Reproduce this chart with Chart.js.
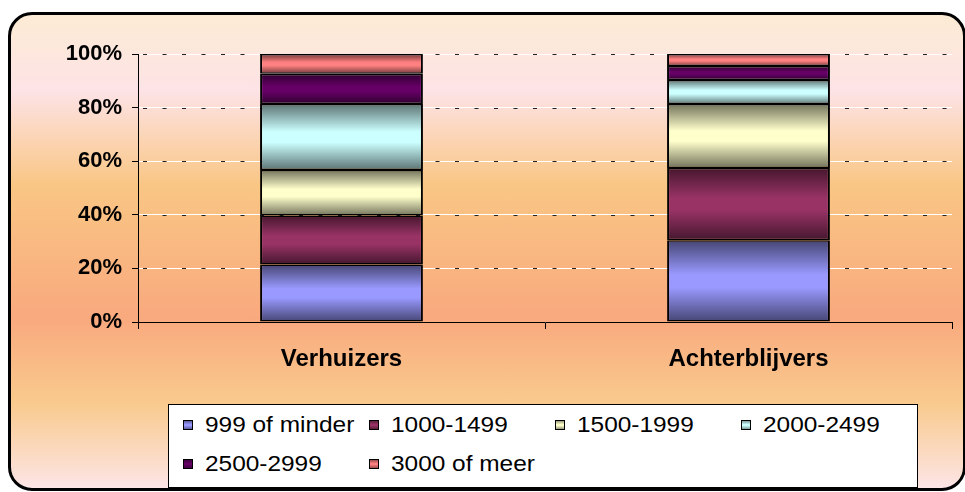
<!DOCTYPE html>
<html>
<head>
<meta charset="utf-8">
<script src="https://cdn.jsdelivr.net/npm/chart.js@4"></script>
<style>
  html, body { margin: 0; padding: 0; background: #fff; }
  #wrap { position: relative; width: 965px; height: 492px; overflow: hidden; }
  #kader {
    position: absolute; left: 8px; top: 12px; width: 952px; height: 473px;
    border: 3px solid #000; border-radius: 24px;
    background: linear-gradient(to bottom, #fcebd4 0%, #fde3e6 16%, #f9c684 36%, #f9a97e 64%, #f9ca8d 82%, #fde5e6 100%);
  }
  #grafiek { position: absolute; left: 0; top: 0; }
  #legenda {
    position: absolute; left: 168px; top: 404px; width: 750px; height: 84px;
    background: #fff; border: 1px solid #000; box-sizing: border-box;
    display: grid; grid-template-columns: repeat(4, 186px); grid-auto-rows: 39px;
    padding-left: 14px;
    font-family: "Liberation Sans", Arial, sans-serif; font-size: 22px; color: #000;
  }
  .item { display: flex; align-items: center; white-space: nowrap; }
  .blokje { width: 8px; height: 8px; border: 1px solid #000; margin-right: 12px; flex: none; }
  .tekst { display: inline-block; transform: scaleX(1.11); transform-origin: 0 50%; }
</style>
</head>
<body>
<div id="wrap">
  <div id="kader"></div>
  <canvas id="grafiek" width="965" height="492"></canvas>
  <div id="legenda"></div>
</div>
<script>
// ================================
// DATA
// ================================

const categorieen = ['Verhuizers', 'Achterblijvers'];

const klassen = ['999 of minder', '1000-1499', '1500-1999', '2000-2499', '2500-2999', '3000 of meer'];
const kleuren = ['#9999ff', '#993366', '#ffffcc', '#ccffff', '#660066', '#ff8080'];

// percentage per klasse: [Verhuizers, Achterblijvers]
const minder999  = [21.5, 30.5];
const van1000    = [18.2, 27.0];
const van1500    = [17.0, 23.8];
const van2000    = [24.6, 9.0];
const van2500    = [11.3, 5.2];
const meer3000   = [7.4, 4.5];

const reeksen = [minder999, van1000, van1500, van2000, van2500, meer3000];

const yTicks = [0, 20, 40, 60, 80, 100];

// ================================
// HULPFUNCTIES
// ================================

function donker(hex, f) {
  const n = parseInt(hex.slice(1), 16);
  const r = Math.round(((n >> 16) & 255) * f);
  const g = Math.round(((n >> 8) & 255) * f);
  const b = Math.round((n & 255) * f);
  return `rgb(${r},${g},${b})`;
}

// verticale "buis"-gradient per segment, donker aan de randen
function segmentKleur(ctx) {
  const chart = ctx.chart;
  const basis = kleuren[ctx.datasetIndex];
  if (!chart.chartArea || ctx.type !== 'data') return basis;
  const y = chart.scales.y;
  let start = 0;
  for (let d = 0; d < ctx.datasetIndex; d++) start += reeksen[d][ctx.dataIndex];
  const eind = start + reeksen[ctx.datasetIndex][ctx.dataIndex];
  const top = y.getPixelForValue(eind);
  const bodem = y.getPixelForValue(start);
  const g = chart.ctx.createLinearGradient(0, top, 0, bodem);
  g.addColorStop(0, donker(basis, 0.45));
  g.addColorStop(0.42, basis);
  g.addColorStop(0.58, basis);
  g.addColorStop(1, donker(basis, 0.45));
  return g;
}

// donkere streepjes over de witte rasterlijnen
const rasterStreepjes = {
  id: 'rasterStreepjes',
  beforeDatasetsDraw(chart) {
    const { ctx, chartArea, scales } = chart;
    ctx.save();
    ctx.strokeStyle = '#222';
    ctx.lineWidth = 1;
    ctx.setLineDash([4, 15.5]);
    yTicks.forEach(function(v) {
      if (v === 0) return;
      const py = Math.round(scales.y.getPixelForValue(v)) + 0.5;
      ctx.beginPath();
      ctx.moveTo(chartArea.left + 5, py);
      ctx.lineTo(chartArea.right, py);
      ctx.stroke();
    });
    ctx.restore();
  }
};

// ================================
// GRAFIEK
// ================================

new Chart(document.getElementById('grafiek'), {
  type: 'bar',
  data: {
    labels: categorieen,
    datasets: reeksen.map(function(waarden, i) {
      return {
        label: klassen[i],
        data: waarden,
        backgroundColor: segmentKleur,
        borderColor: '#000',
        borderWidth: { top: 1.5, bottom: 1.5, left: 2, right: 2 },
        borderSkipped: false,
        categoryPercentage: 1,
        barPercentage: 0.4
      };
    })
  },
  plugins: [rasterStreepjes],
  options: {
    responsive: false,
    animation: false,
    layout: { padding: { top: 54, right: 13, left: 1, bottom: 0 } },
    plugins: {
      legend: { display: false },
      tooltip: { enabled: false }
    },
    scales: {
      x: {
        stacked: true,
        offset: true,
        afterFit: function(s) { s.height = 170; },
        grid: {
          offset: true,
          drawOnChartArea: false,
          drawTicks: true,
          tickLength: 7,
          tickColor: '#000'
        },
        border: { color: '#000', width: 1 },
        ticks: {
          color: '#000',
          padding: 16,
          font: { family: '"Liberation Sans", Arial, sans-serif', size: 24, weight: 'bold' }
        }
      },
      y: {
        stacked: true,
        min: 0,
        max: 100,
        afterFit: function(s) { s.width = 137; },
        afterBuildTicks: function(s) { s.ticks = yTicks.map(function(v) { return { value: v }; }); },
        grid: {
          color: '#ffffff',
          lineWidth: 1,
          tickLength: 6,
          tickColor: '#000'
        },
        border: { color: '#000', width: 1 },
        ticks: {
          color: '#000',
          padding: 10,
          callback: function(v) { return v + '%'; },
          font: { family: '"Liberation Sans", Arial, sans-serif', size: 22, weight: 'bold' }
        }
      }
    }
  }
});

// ================================
// LEGENDA
// ================================

const legenda = document.getElementById('legenda');
klassen.forEach(function(naam, i) {
  const item = document.createElement('div');
  item.className = 'item';
  item.innerHTML = `
    <span class="blokje" style="background: linear-gradient(to bottom, ${donker(kleuren[i], 0.6)}, ${kleuren[i]} 45%, ${kleuren[i]} 55%, ${donker(kleuren[i], 0.6)});"></span>
    <span class="tekst">${naam}</span>
  `;
  legenda.appendChild(item);
});
</script>
</body>
</html>
